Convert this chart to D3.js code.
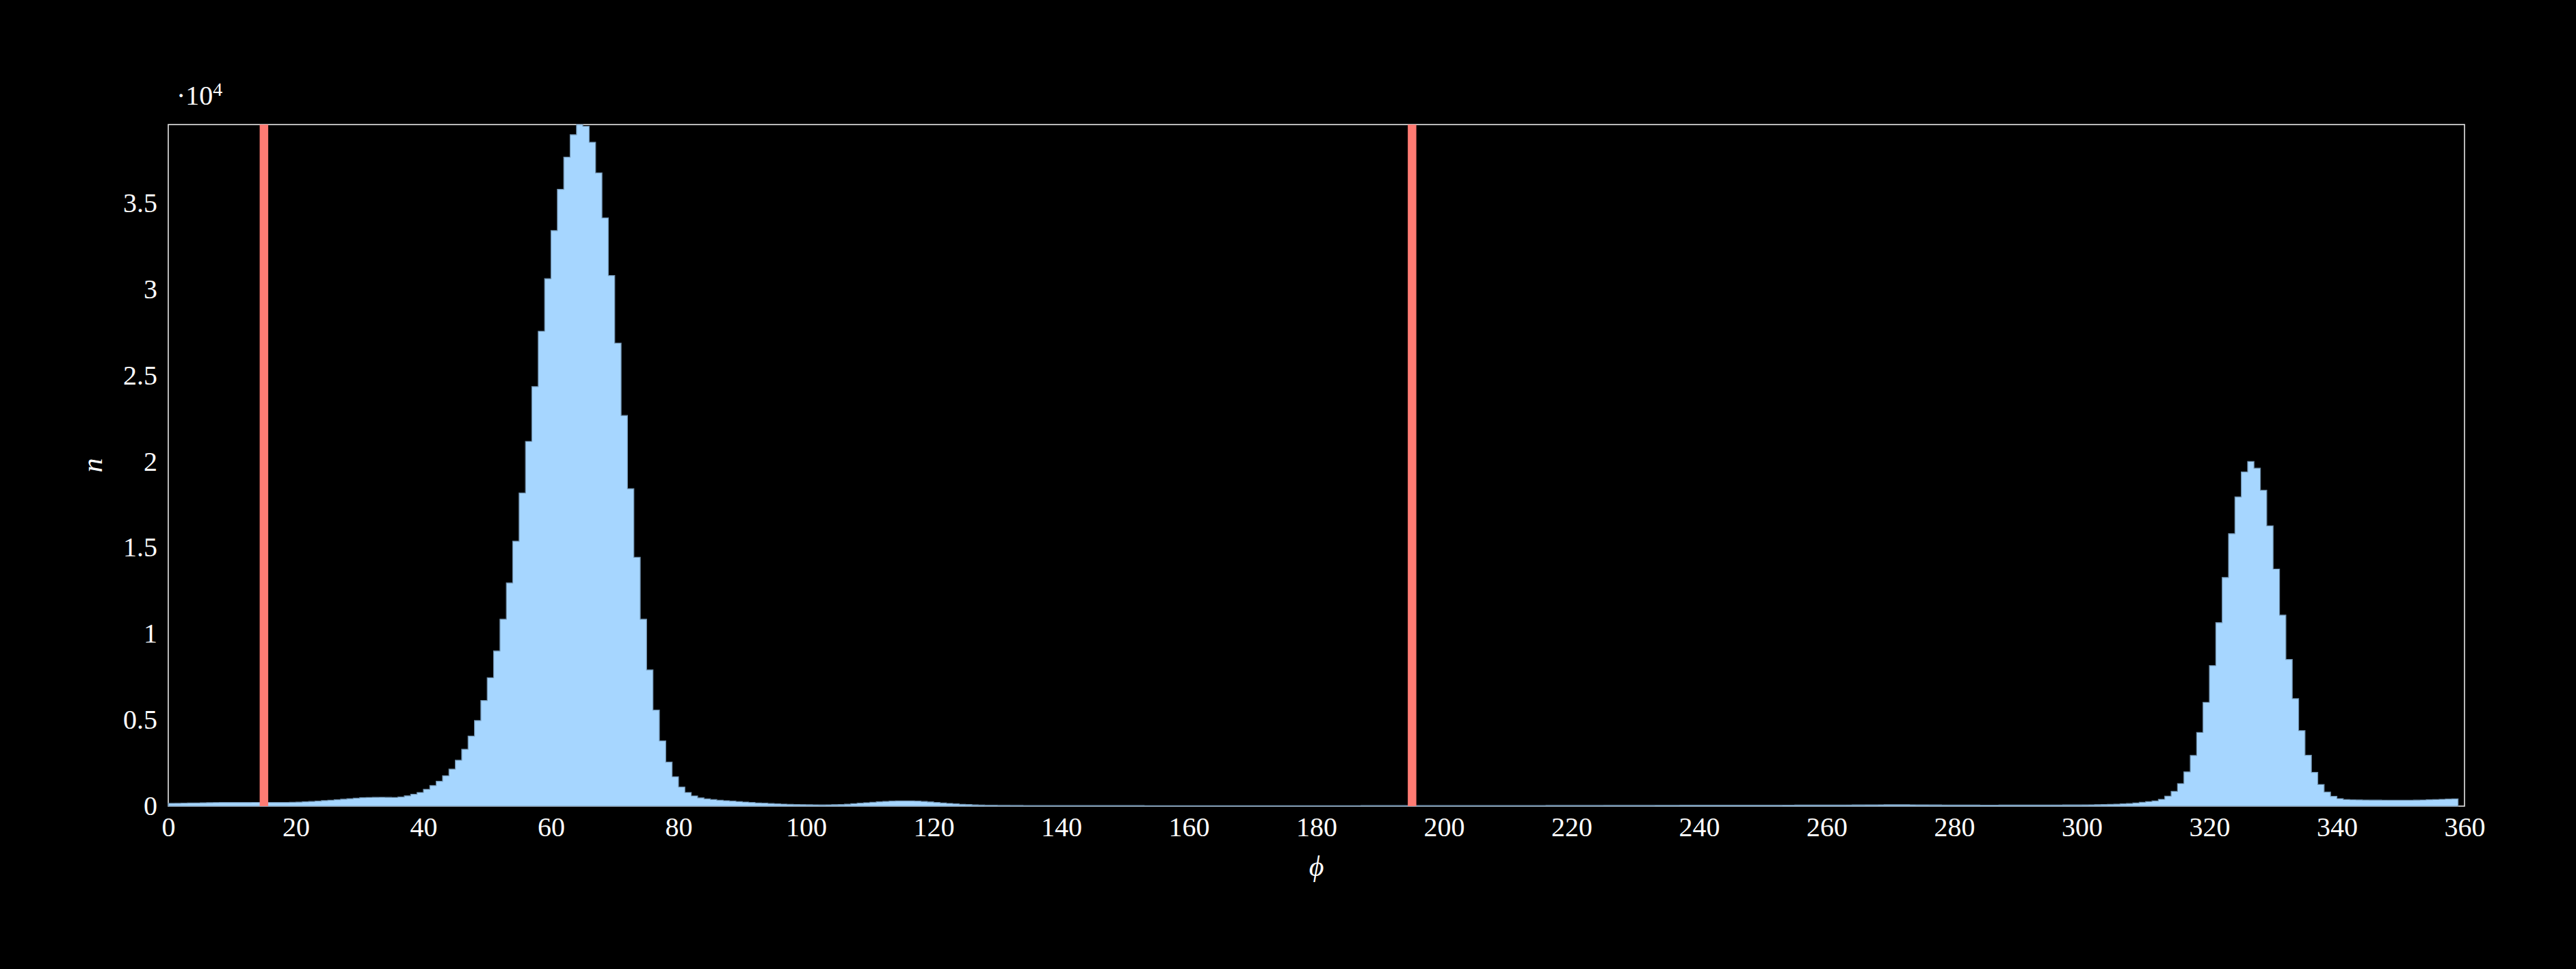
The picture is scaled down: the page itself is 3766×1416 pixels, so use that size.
<!DOCTYPE html>
<html>
<head>
  <meta charset="utf-8">
  <title>Histogram of phi</title>
  <script src="https://cdn.jsdelivr.net/npm/d3@7/dist/d3.min.js"></script>
  <style>
    html, body { margin: 0; padding: 0; background: #000; }
    svg { display: block; background: #000; }
    text { font-family: "Liberation Serif", "DejaVu Serif", serif; fill: #fff; }
  </style>
</head>
<body>
  <svg width="3766" height="1416"></svg>

  <script>
    // histogram counts, one per 1-degree bin, bins start at 0 and the last one ends at 359
    const counts = [
      160, 165, 172, 180, 188, 196, 203, 208, 211, 213,
      215, 216, 217, 218, 219, 219, 217, 215, 216, 222,
      235, 252, 272, 296, 322, 348, 375, 402, 432, 462,
      490, 506, 515, 516, 510, 506, 532, 600, 688, 794,
      980, 1192, 1443, 1761, 2145, 2661, 3297, 4065, 4965, 6130,
      7454, 9003, 10844, 12949, 15372, 18165, 21160, 24340, 27550, 30600,
      33390, 35780, 37650, 38950, 39540, 39440, 38510, 36740, 34130, 30780,
      26860, 22660, 18417, 14432, 10844, 7904, 5574, 3787, 2555, 1708,
      1112, 794, 596, 480, 424, 384, 344, 318, 291, 265,
      238, 212, 188, 172, 150, 134, 120, 108, 98, 90,
      84, 80, 78, 80, 86, 98, 118, 145, 172, 198,
      225, 252, 275, 292, 302, 306, 302, 290, 270, 245,
      215, 185, 158, 132, 110, 92, 78, 66, 58, 52,
      48, 45, 43, 41, 40, 39, 38, 37, 36, 36,
      35, 35, 34, 34, 33, 33, 33, 32, 32, 32,
      31, 31, 31, 30, 30, 30, 30, 29, 29, 29,
      29, 29, 28, 28, 28, 28, 28, 28, 28, 28,
      28, 28, 28, 28, 28, 28, 28, 28, 28, 28,
      28, 29, 29, 29, 30, 30, 30, 31, 31, 31,
      32, 32, 32, 33, 33, 33, 34, 34, 34, 35,
      35, 35, 36, 36, 36, 37, 37, 37, 38, 38,
      38, 39, 39, 40, 40, 40, 41, 41, 42, 42,
      42, 43, 43, 44, 44, 45, 45, 46, 46, 47,
      47, 48, 48, 49, 49, 50, 50, 51, 51, 52,
      52, 53, 53, 54, 54, 55, 55, 56, 56, 57,
      57, 58, 58, 59, 60, 61, 62, 63, 64, 65,
      66, 67, 68, 70, 72, 74, 76, 78, 80, 81,
      82, 82, 81, 80, 78, 76, 74, 72, 70, 68,
      66, 64, 62, 61, 60, 60, 60, 61, 62, 63,
      64, 65, 66, 67, 68, 69, 70, 71, 72, 74,
      76, 80, 86, 94, 104, 116, 132, 152, 182, 225,
      265, 305, 397, 583, 861, 1311, 1986, 2939, 4277, 6024,
      8156, 10645, 13266, 15809, 17940, 19390, 19990, 19610, 18324, 16259,
      13756, 11082, 8513, 6236, 4382, 2953, 1960, 1258, 821, 569,
      437, 384, 368, 360, 356, 352, 350, 348, 346, 345,
      345, 346, 350, 358, 370, 385, 398, 410, 425
    ];
    const binStart = 0;
    const binWidth = 1;

    // vertical marker lines (degrees)
    const markers = [15, 195];

    const xTicks = [0, 20, 40, 60, 80, 100, 120, 140, 160, 180, 200, 220, 240, 260, 280, 300, 320, 340, 360];
    const yTicks = [0, 5000, 10000, 15000, 20000, 25000, 30000, 35000];
    const yTickLabels = ["0", "0.5", "1", "1.5", "2", "2.5", "3", "3.5"];

    function drawHistogram(svg) {
      const margin = { top: 182, right: 163, bottom: 238, left: 246 };
      const width = +svg.attr("width");
      const height = +svg.attr("height");
      const innerWidth = width - margin.left - margin.right;
      const innerHeight = height - margin.top - margin.bottom;

      const g = svg.append("g")
        .attr("transform", `translate(${margin.left},${margin.top})`);

      const x = d3.scaleLinear().domain([0, 360]).range([0, innerWidth]);
      const y = d3.scaleLinear().domain([0, d3.max(counts)]).range([innerHeight, 0]);

      // step points: left edge of every bin, plus the right edge of the last one
      const steps = counts.map((c, i) => ({ x: binStart + i * binWidth, y: c }));
      steps.push({ x: binStart + counts.length * binWidth, y: counts[counts.length - 1] });

      // frame
      g.append("rect")
        .attr("x", 0).attr("y", 0)
        .attr("width", innerWidth).attr("height", innerHeight)
        .attr("fill", "none")
        .attr("stroke", "#e6e6e6")
        .attr("stroke-width", 1.6);

      const area = d3.area()
        .curve(d3.curveStepAfter)
        .x(d => x(d.x))
        .y0(y(0))
        .y1(d => y(d.y));

      g.append("path")
        .datum(steps)
        .attr("fill", "#a6d6ff")
        .attr("stroke", "#6d8eab")
        .attr("stroke-width", 1.2)
        .attr("d", area);

      // red vertical lines
      g.selectAll("line.marker")
        .data(markers)
        .enter()
        .append("line")
        .attr("class", "marker")
        .attr("x1", d => x(d)).attr("x2", d => x(d))
        .attr("y1", 0).attr("y2", innerHeight)
        .attr("stroke", "#ff7b73")
        .attr("stroke-width", 12.5);

      // axes without tick marks
      const xAxis = d3.axisBottom(x).tickValues(xTicks).tickSize(0).tickPadding(16)
        .tickFormat(d3.format("d"));
      const gx = g.append("g")
        .attr("transform", `translate(0,${innerHeight})`)
        .call(xAxis);

      const yAxis = d3.axisLeft(y).tickValues(yTicks).tickSize(0).tickPadding(16)
        .tickFormat((d, i) => yTickLabels[i]);
      const gy = g.append("g").call(yAxis);

      [gx, gy].forEach(a => {
        a.select(".domain").remove();
        a.selectAll("text")
          .attr("fill", "#fff")
          .style("font-size", "40px")
          .style("font-family", "'Liberation Serif', 'DejaVu Serif', serif");
      });

      // offset label at the top of the y axis
      const off = svg.append("text")
        .attr("x", 258)
        .attr("y", 153)
        .style("font-size", "40px");
      off.append("tspan").text("\u00b710");
      off.append("tspan").attr("dy", -13).style("font-size", "28px").text("4");

      // axis titles
      svg.append("text")
        .attr("transform", `translate(139,${margin.top + innerHeight / 2}) rotate(-90)`)
        .attr("text-anchor", "middle")
        .attr("dominant-baseline", "middle")
        .style("font-size", "42px")
        .style("font-style", "italic")
        .text("n");

      svg.append("text")
        .attr("x", margin.left + innerWidth / 2)
        .attr("y", 1280)
        .attr("text-anchor", "middle")
        .style("font-size", "42px")
        .style("font-style", "italic")
        .text("\u03d5");
    }

    const svg = d3.select("svg");
    drawHistogram(svg);
  </script>
</body>
</html>
